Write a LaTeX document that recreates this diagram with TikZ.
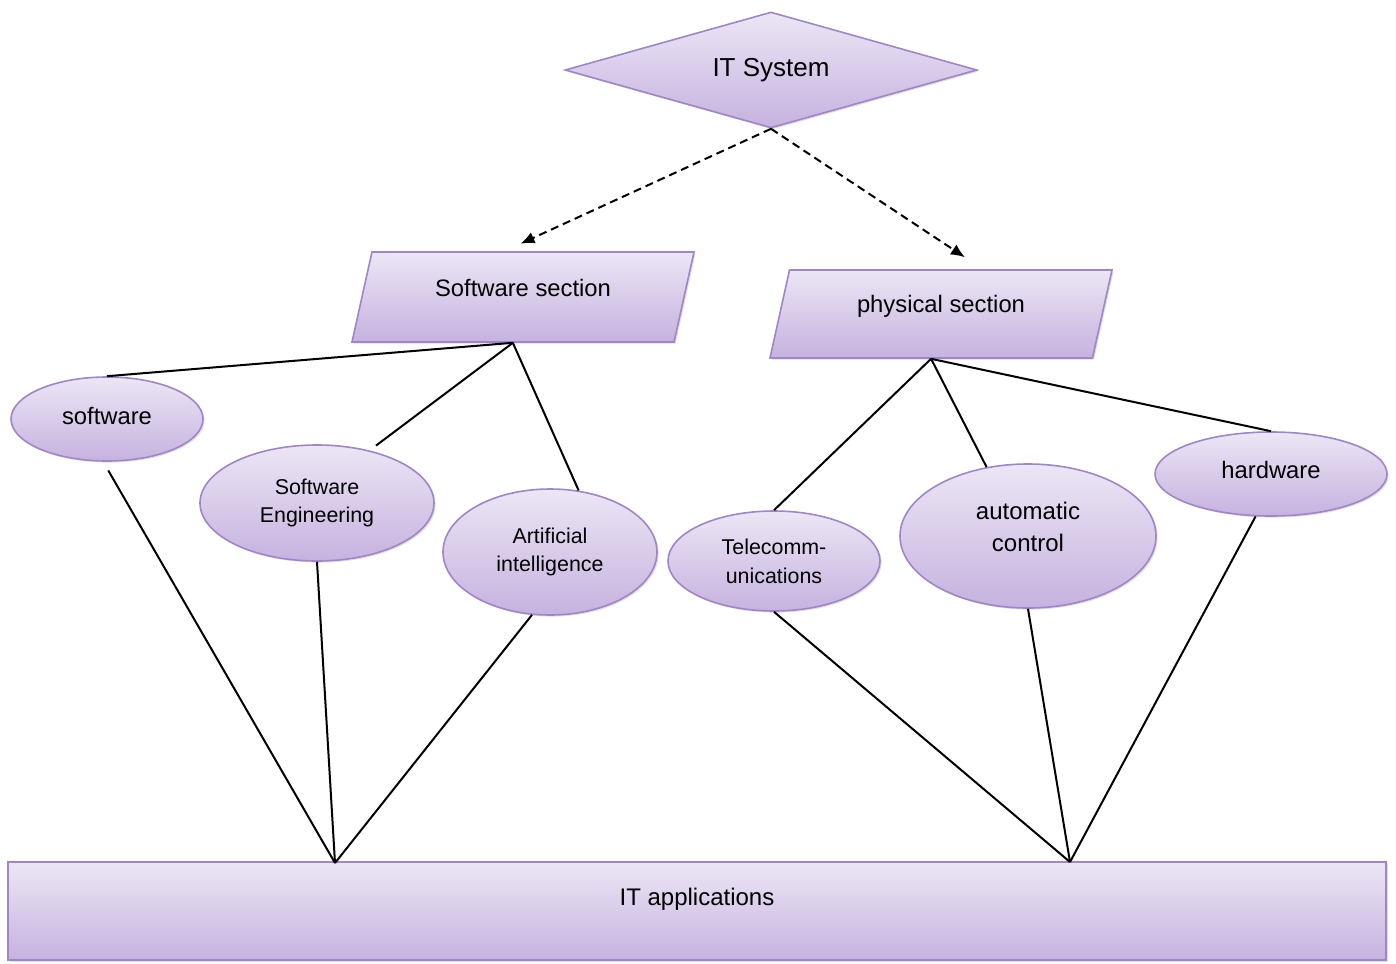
\documentclass[tikz,border=0pt]{standalone}
\usepackage{fontspec}
\setmainfont{Liberation Sans}
\usetikzlibrary{shapes.geometric,arrows.meta,shadows}

\definecolor{lavtop}{HTML}{ECE6F5}
\definecolor{lavbot}{HTML}{C6B2DF}
\definecolor{lavline}{HTML}{9E86C8}

\begin{document}
\begin{tikzpicture}[x=0.5pt, y=-0.5pt,
    lavfill/.style={top color=lavtop, bottom color=lavbot, draw=lavline, line width=0.8pt,
        drop shadow={shadow xshift=0.8pt, shadow yshift=-0.8pt, opacity=0.25}},
    oval/.style={ellipse, lavfill, inner sep=0pt, align=center},
    slantbox/.style={trapezium, trapezium left angle=77.5, trapezium right angle=102.5,
        trapezium stretches body=true, lavfill, inner xsep=0pt, text height=9pt,
        font=\fontsize{11.9}{14}\selectfont},
    link/.style={line width=1pt},
    dasharrow/.style={-{Latex[length=7pt,width=6pt]}, dash pattern=on 4pt off 2.5pt, line width=1pt}
]
    \useasboundingbox (0,0) rectangle (1396,963);

    % Top of the tree
    \node[diamond, lavfill, aspect=3.5, minimum width=206pt, minimum height=58pt, inner sep=0pt,
        font=\fontsize{13}{15}\selectfont] (itsys) at (771,70) {IT System};

    % The two sections
    \node[slantbox, minimum width=171pt, text depth=10pt, inner ysep=13pt]
        (swsec) at (523,297) {Software section};
    \node[slantbox, minimum width=171pt, text depth=11pt, inner ysep=12pt]
        (phsec) at (941,314) {physical section};

    % Fields of the software section
    \node[oval, minimum width=96pt, minimum height=42pt, text depth=3pt,
        font=\fontsize{11.9}{14}\selectfont] (sw) at (107,419) {software};
    \node[oval, minimum width=117pt, minimum height=58pt, font=\fontsize{10.7}{14}\selectfont]
        (se) at (317,503) {Software\\Engineering};
    \node[oval, minimum width=107pt, minimum height=63pt, font=\fontsize{10.7}{14}\selectfont]
        (ai) at (550,552) {Artificial\\intelligence};

    % Fields of the physical section
    \node[oval, minimum width=106pt, minimum height=50pt, font=\fontsize{10.7}{14.5}\selectfont]
        (tel) at (774,561) {Telecomm-\\unications};
    \node[oval, minimum width=128pt, minimum height=72pt, text depth=9pt,
        font=\fontsize{12}{16}\selectfont] (ac) at (1028,536) {automatic\\control};
    \node[oval, minimum width=116pt, minimum height=42pt, text depth=4pt,
        font=\fontsize{11.9}{14}\selectfont] (hw) at (1271,474) {hardware};

    % Bottom bar
    \node[rectangle, lavfill, minimum width=689pt, minimum height=49pt, inner sep=0pt,
        text depth=14.5pt, font=\fontsize{12}{14}\selectfont] (apps) at (697,911) {IT applications};
    \coordinate (jl) at (335,863);
    \coordinate (jr) at (1070,862);

    % Dashed arrows
    \draw[dasharrow, shorten >=9pt] (itsys.south) -- ([xshift=-14.5pt]swsec.top side);
    \draw[dasharrow, shorten >=10.8pt] (itsys.south) -- ([xshift=16pt]phsec.top side);

    % Section to field links
    \draw[link] (swsec.bottom side) -- (sw.north);
    \draw[link, shorten >=4pt] (swsec.bottom side) -- (se.45);
    \draw[link] (swsec.bottom side) -- (ai.65);
    \draw[link] (phsec.bottom side) -- (tel.north);
    \draw[link] (phsec.bottom side) -- (ac.121);
    \draw[link] (phsec.bottom side) -- (hw.north);

    % Field to applications links
    \draw[link, shorten <=5pt] (sw.-95) -- (jl);
    \draw[link] (se.south) -- (jl);
    \draw[link] (ai.-106) -- (jl);
    \draw[link] (tel.south) -- (jr);
    \draw[link] (ac.south) -- (jr);
    \draw[link] (hw.-110) -- (jr);
\end{tikzpicture}
\end{document}
